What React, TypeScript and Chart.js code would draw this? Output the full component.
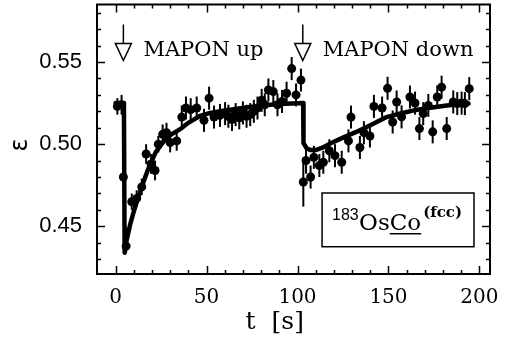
import React, { useEffect, useRef } from "react";
import { Chart, registerables } from "chart.js";

Chart.register(...registerables);

// Measured anisotropy ε vs time t [s]
const timeS = [
  1.0, 3.3, 4.3, 5.8, 8.9, 11.6, 14.4, 16.8, 19.5, 21.7, 23.5, 25.9, 28.0, 30.0, 33.6,
  36.4, 38.7, 41.3, 44.6, 48.6, 51.4, 54.1, 57.4, 60.2, 62.0, 64.0, 66.0, 68.0, 70.0,
  72.0, 74.0, 76.0, 78.0, 80.3, 82.0, 84.0, 86.7, 89.0, 91.5, 94.0, 96.8, 99.2, 101.9,
  103.2, 104.7, 107.2, 109.0, 112.0, 114.2, 117.5, 120.6, 124.3, 128.0, 129.4, 134.3,
  136.5, 139.8, 142.0, 146.5, 149.5, 152.3, 154.5, 157.2, 161.8, 164.6, 167.0, 169.1,
  171.9, 174.3, 176.8, 179.2, 182.0, 185.6, 187.8, 190.2, 192.0, 194.4,
];
const epsilon = [
  0.523, 0.524, 0.48, 0.438, 0.465, 0.467, 0.474, 0.494, 0.488, 0.484, 0.5, 0.506, 0.507, 0.501, 0.502,
  0.5165, 0.522, 0.521, 0.522, 0.5145, 0.528, 0.5165, 0.5175, 0.5186, 0.517, 0.515, 0.518, 0.516, 0.519,
  0.517, 0.518, 0.52, 0.522, 0.5267, 0.524, 0.533, 0.532, 0.524, 0.526, 0.531, 0.546, 0.53, 0.539,
  0.477, 0.49, 0.48, 0.492, 0.487, 0.489, 0.496, 0.493, 0.489, 0.502, 0.5165, 0.498,
  0.507, 0.505, 0.523, 0.522, 0.534, 0.5135, 0.5257, 0.5166, 0.5287, 0.525, 0.5095, 0.5186,
  0.5236, 0.5075, 0.5287, 0.5347, 0.5095, 0.5257, 0.5247, 0.525, 0.5247, 0.5338,
];
const epsErr = [
  0.005, 0.006, 0.004, 0.004, 0.005, 0.005, 0.005, 0.006, 0.006, 0.006, 0.005, 0.006, 0.006, 0.006, 0.006,
  0.007, 0.007, 0.007, 0.007, 0.007, 0.007, 0.007, 0.007, 0.007, 0.007, 0.007, 0.007, 0.007, 0.007,
  0.007, 0.007, 0.007, 0.007, 0.007, 0.007, 0.007, 0.007, 0.007, 0.007, 0.007, 0.007, 0.007, 0.007,
  0.015, 0.008, 0.007, 0.007, 0.007, 0.007, 0.007, 0.007, 0.007, 0.007, 0.007, 0.007,
  0.007, 0.007, 0.007, 0.007, 0.007, 0.007, 0.007, 0.007, 0.007, 0.007, 0.007, 0.007,
  0.007, 0.007, 0.007, 0.007, 0.007, 0.007, 0.007, 0.007, 0.007, 0.007,
];

// Fitted curve
const fitTime = [
  0, 4.6, 4.9, 5.0, 6, 8, 10, 12, 15, 18, 22, 26, 30, 36, 40, 46, 52, 60, 70, 80, 90, 103.1,
  103.3, 105, 107, 110, 114, 118, 125, 132, 140, 149, 156, 164, 172, 182, 194,
];
const fitEps = [
  0.525, 0.525, 0.45, 0.434, 0.441, 0.451, 0.459, 0.466, 0.476, 0.485, 0.495, 0.501, 0.5055, 0.5095, 0.513,
  0.517, 0.519, 0.5205, 0.522, 0.5235, 0.5245, 0.525,
  0.5006, 0.4975, 0.4964, 0.4964, 0.498, 0.5004, 0.504, 0.5073, 0.5115, 0.5165, 0.5185, 0.5206, 0.522,
  0.5236, 0.5247,
];

const xTickValues = [0, 50, 100, 150, 200];
const yTickValues = [0.45, 0.5, 0.55];
const arrowTimes = [4.3, 102.9];
const arrowLabels = ["MAPON up", "MAPON down"];

const X_MIN = -10.2;
const X_MAX = 205.8;
const Y_MIN = 0.421;
const Y_MAX = 0.585;

const SERIF = '"DejaVu Serif", serif';
const SANS = '"Liberation Sans", Arial, sans-serif';

const errorBarsPlugin = {
  id: "errorBars",
  beforeDatasetsDraw(chart: any) {
    const { ctx } = chart;
    const x = chart.scales.x;
    const y = chart.scales.y;
    ctx.save();
    ctx.strokeStyle = "#000";
    ctx.lineWidth = 2;
    timeS.forEach((t, i) => {
      const px = x.getPixelForValue(t);
      ctx.beginPath();
      ctx.moveTo(px, y.getPixelForValue(epsilon[i] - epsErr[i]));
      ctx.lineTo(px, y.getPixelForValue(epsilon[i] + epsErr[i]));
      ctx.stroke();
    });
    ctx.restore();
  },
};

const framePlugin = {
  id: "frameDecor",
  afterDraw(chart: any) {
    const { ctx, chartArea } = chart;
    const { left, right, top, bottom } = chartArea;
    const x = chart.scales.x;
    const y = chart.scales.y;
    ctx.save();
    ctx.strokeStyle = "#000";
    ctx.fillStyle = "#000";
    ctx.lineWidth = 1.5;
    // x ticks (bottom & top)
    for (let v = -10; v <= 200; v += 10) {
      const px = Math.round(x.getPixelForValue(v)) + 0.5;
      if (px - left < 3 || right - px < 3) continue;
      const len = v % 50 === 0 ? 8 : 4;
      ctx.beginPath();
      ctx.moveTo(px, bottom);
      ctx.lineTo(px, bottom - len);
      ctx.moveTo(px, top);
      ctx.lineTo(px, top + len);
      ctx.stroke();
    }
    // y ticks (left & right)
    for (let k = 43; k <= 58; k++) {
      const v = k / 100;
      const py = Math.round(y.getPixelForValue(v)) + 0.5;
      if (py - top < 3 || bottom - py < 3) continue;
      const len = k % 5 === 0 ? 8 : 4;
      ctx.beginPath();
      ctx.moveTo(left, py);
      ctx.lineTo(left + len, py);
      ctx.moveTo(right, py);
      ctx.lineTo(right - len, py);
      ctx.stroke();
    }
    // frame
    ctx.lineWidth = 2;
    ctx.strokeRect(left, top, right - left, bottom - top);

    // arrows + labels
    arrowTimes.forEach((t, i) => {
      const px = x.getPixelForValue(t);
      const tip = y.getPixelForValue(0.5509);
      ctx.lineWidth = 1.5;
      ctx.beginPath();
      ctx.moveTo(px, tip - 36);
      ctx.lineTo(px, tip - 17);
      ctx.stroke();
      ctx.beginPath();
      ctx.moveTo(px - 8, tip - 17);
      ctx.lineTo(px + 8, tip - 17);
      ctx.lineTo(px, tip);
      ctx.closePath();
      ctx.fillStyle = "#fff";
      ctx.fill();
      ctx.stroke();
      ctx.fillStyle = "#000";
      ctx.font = `21px ${SERIF}`;
      ctx.textAlign = "left";
      ctx.textBaseline = "alphabetic";
      ctx.fillText(arrowLabels[i], px + 20, tip - 5);
    });

    // sample label box
    const bx0 = x.getPixelForValue(113.5);
    const bx1 = x.getPixelForValue(197);
    const by0 = y.getPixelForValue(0.4703);
    const by1 = y.getPixelForValue(0.4376);
    ctx.lineWidth = 1.5;
    ctx.strokeRect(bx0, by0, bx1 - bx0, by1 - by0);
    ctx.textBaseline = "alphabetic";
    ctx.textAlign = "left";
    ctx.font = `16px ${SANS}`;
    ctx.fillText("183", bx0 + 10, by0 + 27);
    ctx.font = `23px ${SERIF}`;
    const osX = bx0 + 37;
    ctx.fillText("Os", osX, by0 + 37);
    const osW = ctx.measureText("Os").width;
    const coW = ctx.measureText("Co").width;
    ctx.fillText("Co", osX + osW, by0 + 37);
    ctx.fillRect(osX + osW, by0 + 40, coW, 1.5);
    ctx.font = `bold 15px ${SERIF}`;
    ctx.fillText("(fcc)", osX + osW + coW + 2, by0 + 24);

    // axis titles
    ctx.font = `25px ${SERIF}`;
    ctx.textAlign = "center";
    ctx.textBaseline = "alphabetic";
    ctx.fillText("t  [s]", x.getPixelForValue(87.5), 329);
    ctx.save();
    ctx.translate(21, y.getPixelForValue(0.4995));
    ctx.rotate(-Math.PI / 2);
    ctx.font = `24px "DejaVu Sans", sans-serif`;
    ctx.textBaseline = "middle";
    ctx.fillText("ε", 0, 0);
    ctx.restore();
    ctx.restore();
  },
};

export default function App() {
  const canvasRef = useRef<HTMLCanvasElement | null>(null);

  useEffect(() => {
    document.body.style.margin = "0";
    const canvas = canvasRef.current;
    if (!canvas) return;
    const chart = new Chart(canvas, {
      type: "scatter",
      data: {
        datasets: [
          {
            label: "fit",
            data: fitTime.map((t, i) => ({ x: t, y: fitEps[i] })),
            showLine: true,
            borderColor: "#000",
            backgroundColor: "#000",
            borderWidth: 4.5,
            pointRadius: 0,
            tension: 0,
            borderJoinStyle: "round",
            borderCapStyle: "round",
          },
          {
            label: "data",
            data: timeS.map((t, i) => ({ x: t, y: epsilon[i] })),
            showLine: false,
            pointRadius: 4.5,
            pointBackgroundColor: "#000",
            pointBorderColor: "#000",
            pointBorderWidth: 0,
          },
        ],
      },
      options: {
        responsive: false,
        animation: false,
        devicePixelRatio: 1,
        layout: { padding: { left: 0, top: 3, right: 15, bottom: 0 } },
        plugins: { legend: { display: false }, tooltip: { enabled: false } },
        scales: {
          x: {
            type: "linear",
            min: X_MIN,
            max: X_MAX,
            grid: { display: false, drawTicks: false },
            border: { display: false },
            afterBuildTicks: (scale: any) => {
              scale.ticks = xTickValues.map((v) => ({ value: v }));
            },
            afterFit: (scale: any) => {
              scale.height = 63;
              scale.paddingLeft = 0;
              scale.paddingRight = 0;
            },
            ticks: {
              color: "#000",
              padding: 12,
              maxRotation: 0,
              autoSkip: false,
              font: { family: SERIF, size: 20 },
              callback: (v: any) => String(v),
            },
          },
          y: {
            type: "linear",
            min: Y_MIN,
            max: Y_MAX,
            grid: { display: false, drawTicks: false },
            border: { display: false },
            afterBuildTicks: (scale: any) => {
              scale.ticks = yTickValues.map((v) => ({ value: v }));
            },
            afterFit: (scale: any) => {
              scale.width = 97;
              scale.paddingTop = 0;
              scale.paddingBottom = 0;
            },
            ticks: {
              color: "#000",
              padding: 15,
              autoSkip: false,
              font: { family: SANS, size: 22 },
              callback: (v: any) => Number(v).toFixed(2),
            },
          },
        },
      },
      plugins: [errorBarsPlugin, framePlugin],
    } as any);
    return () => chart.destroy();
  }, []);

  return (
    <div style={{ width: 505, height: 337, background: "#fff" }}>
      <canvas ref={canvasRef} width={505} height={337} />
    </div>
  );
}
